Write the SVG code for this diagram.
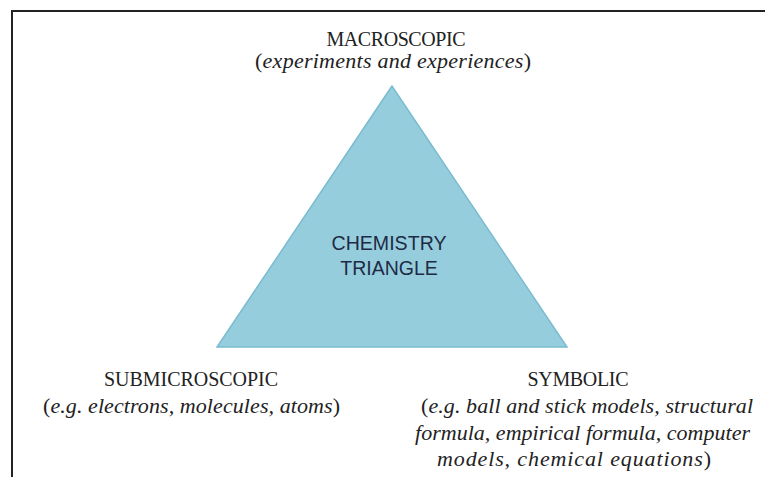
<svg xmlns="http://www.w3.org/2000/svg" width="765" height="477" viewBox="0 0 765 477">
<style>
.lbl{font-family:"Liberation Serif","DejaVu Serif",serif;font-size:20px;fill:#222;text-anchor:middle}
.sub{font-family:"Liberation Serif","DejaVu Serif",serif;font-size:22px;fill:#222}
.it{font-style:italic}
.ctr{font-family:"Liberation Sans","DejaVu Sans",sans-serif;font-size:19.5px;fill:#1f2b45;text-anchor:middle}
</style>
<rect x="0" y="0" width="765" height="477" fill="#fff"/>
<path d="M12,477 V11 H765" fill="none" stroke="#222" stroke-width="2"/>
<g id="triangle">
<polygon points="392,86 217,347 567,347" fill="#95cddd" stroke="#78bcd0" stroke-width="1.5"/>
<text class="ctr" x="389" y="250" textLength="115" lengthAdjust="spacingAndGlyphs">CHEMISTRY</text>
<text class="ctr" x="389" y="275">TRIANGLE</text>
</g>
<g id="macroscopic">
<text class="lbl" x="396" y="46" textLength="139">MACROSCOPIC</text>
<text class="sub" x="255" y="68" textLength="276">(<tspan class="it">experiments and experiences</tspan>)</text>
</g>
<g id="submicroscopic">
<text class="lbl" x="191" y="386" textLength="174">SUBMICROSCOPIC</text>
<text class="sub" x="43" y="413" textLength="297">(<tspan class="it">e.g. electrons, molecules, atoms</tspan>)</text>
</g>
<g id="symbolic">
<text class="lbl" x="578" y="386" textLength="101">SYMBOLIC</text>
<text class="sub" x="421" y="413" textLength="332">(<tspan class="it">e.g. ball and stick models, structural</tspan></text>
<text class="sub it" x="415" y="440" textLength="335">formula, empirical formula, computer</text>
<text class="sub" x="437" y="466" textLength="274"><tspan class="it">models, chemical equations</tspan>)</text>
</g>
</svg>
